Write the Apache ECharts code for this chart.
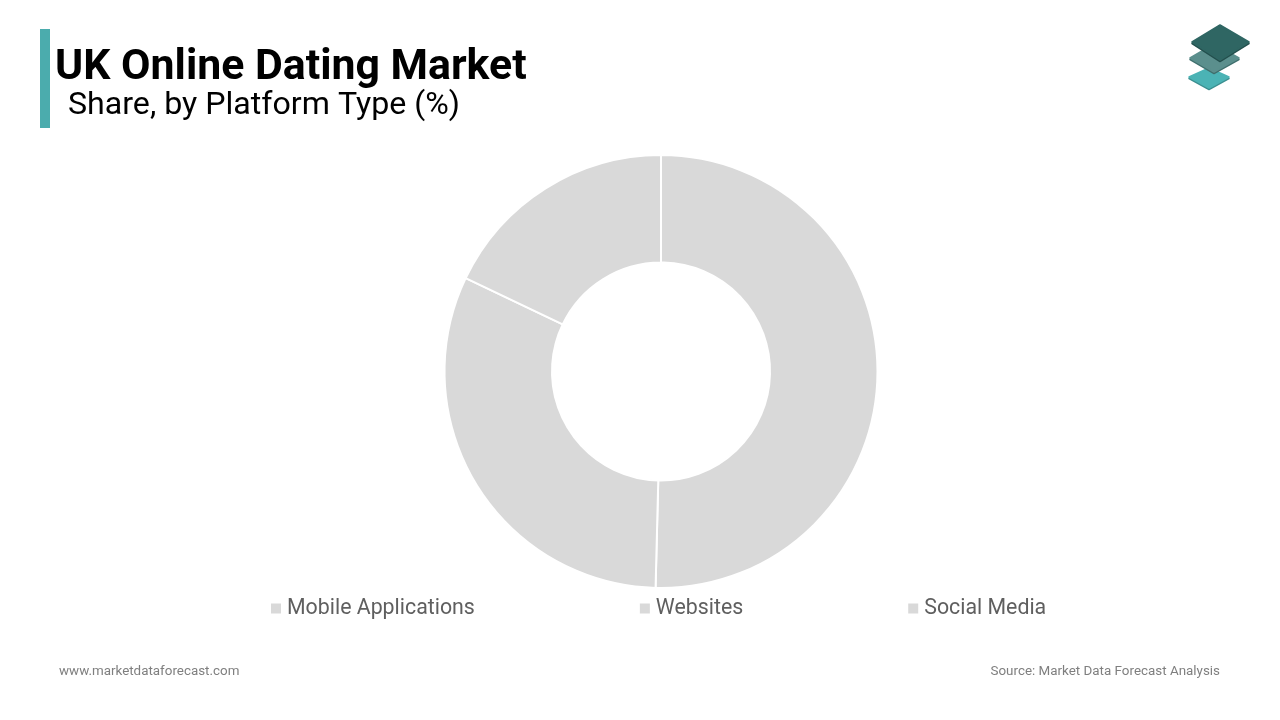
<!DOCTYPE html>
<html lang="en">
<head>
    <meta charset="UTF-8">
    <title>UK Online Dating Market</title>
    <script src="https://cdnjs.cloudflare.com/ajax/libs/echarts/6.0.0/echarts.min.js"></script>
    <style>
        html, body { margin: 0; padding: 0; background: #fff; }
        #chart { width: 1280px; height: 720px; }
    </style>
</head>
<body>
    <div id="chart"></div>
    <script>
        const categories = ['Mobile Applications', 'Websites', 'Social Media'];
        const shares = [50.4, 31.7, 17.9];
        const sliceColor = '#d9d9d9';

        // logo layer, drawn bottom to top with a darker rim underneath
        function layer(points, fill, rim, z) {
            return [
                { type: 'polygon', z: z, shape: { points: points.map(p => [p[0], p[1] + 1.5]) }, style: { fill: rim, stroke: rim, lineWidth: 1.5, lineJoin: 'round' } },
                { type: 'polygon', z: z, shape: { points: points }, style: { fill: fill, stroke: fill, lineWidth: 1.5, lineJoin: 'round' } }
            ];
        }

        const chart = echarts.init(document.getElementById('chart'));

        chart.setOption({
            animation: false,
            backgroundColor: '#ffffff',
            title: [
                {
                    text: 'UK Online Dating Market',
                    left: 50, top: 42,
                    textStyle: { fontFamily: 'Roboto', fontSize: 42.8, fontWeight: 'bold', color: '#000000' }
                },
                {
                    text: 'Share, by Platform Type (%)',
                    left: 63, top: 85,
                    textStyle: { fontFamily: 'Roboto', fontSize: 32.15, fontWeight: 'normal', color: '#000000' }
                },
                {
                    text: 'www.marketdataforecast.com',
                    left: 54, top: 660,
                    textStyle: { fontFamily: 'Roboto', fontSize: 13.4, fontWeight: 'normal', color: '#7f7f7f' }
                },
                {
                    text: 'Source: Market Data Forecast Analysis',
                    right: 55, top: 660,
                    textStyle: { fontFamily: 'Roboto', fontSize: 13.4, fontWeight: 'normal', color: '#7f7f7f' }
                }
            ],
            legend: {
                data: categories,
                left: 264, top: 593,
                icon: 'rect',
                itemWidth: 12, itemHeight: 12,
                itemGap: 163,
                textStyle: { fontFamily: 'Roboto', fontSize: 21.33, color: '#5f5f5f', padding: [0, 0, 0, 0] }
            },
            graphic: [
                { type: 'rect', shape: { x: 40, y: 29, width: 10, height: 99 }, style: { fill: '#4bacad' } }
            ].concat(
                layer([[1209, 68], [1229, 77], [1209, 88], [1189, 77]], '#4bb3b5', '#3c8f90', 1),
                layer([[1214, 44], [1239, 58], [1214, 72], [1190, 58]], '#5b8f8d', '#3f6f6d', 2),
                layer([[1220, 25], [1249, 42], [1220, 60], [1192, 42]], '#2f6663', '#234f4d', 3)
            ),
            series: [{
                type: 'pie',
                center: [661, 371.5],
                radius: [109, 216.5],
                startAngle: 90,
                label: { show: false },
                labelLine: { show: false },
                itemStyle: { color: sliceColor, borderColor: '#ffffff', borderWidth: 2 },
                data: categories.map((name, i) => ({ name: name, value: shares[i] }))
            }]
        });
    </script>
</body>
</html>
